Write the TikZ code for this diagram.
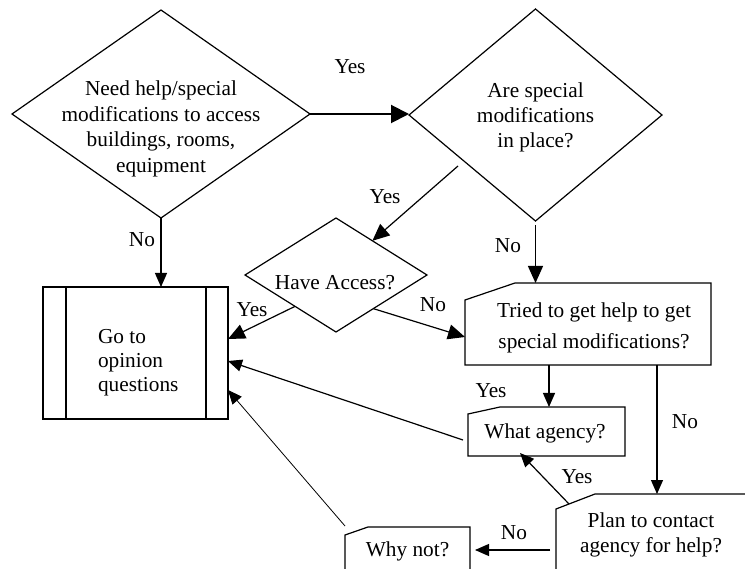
\documentclass[tikz,border=0pt]{standalone}
\usepackage{fontspec}
\setmainfont{Liberation Serif}
\usetikzlibrary{shapes.geometric,arrows.meta,calc}
\begin{document}
\begin{tikzpicture}[x=1pt,y=-1pt,
  every node/.style={inner sep=0pt, outer sep=0pt},
  txt/.style={font=\fontsize{21.3}{25.5}\selectfont, align=center},
  dia/.style={diamond, draw, line width=1.2pt},
  boxshape/.style={rectangle},
  outline/.style={line width=1.2pt, line join=miter},
  arr/.style={line width=1.2pt, -{Triangle[length=14pt,width=12pt]}},
  arrbig/.style={line width=1.2pt, -{Triangle[length=17pt,width=15pt]}},
  bigarr/.style={line width=2pt, -{Triangle[length=18pt,width=18pt]}},
  thinarr/.style={line width=0.8pt, -{Triangle[length=14pt,width=12pt]}}]
\useasboundingbox (0,0) rectangle (745,569);
\begin{scope}
\clip (0,0) rectangle (745,569);
% decision diamonds
\node[dia, minimum width=298pt, minimum height=208pt] (d1) at (161,114) {};
\node[dia, minimum width=253pt, minimum height=212pt] (d2) at (535.5,115) {};
\node[dia, minimum width=182pt, minimum height=114pt] (d3) at (336,275) {};
\node[txt] (t1) at (161,129) {Need help/special\\modifications to access\\buildings, rooms,\\equipment};
\node[txt, font=\fontsize{21.3}{25}\selectfont] (t2) at (535.5,117.5) {Are special\\modifications\\in place?};
\node[txt] (t3) at (335,283) {Have Access?};
% predefined process box
\node[draw, line width=1.2pt, minimum width=185pt, minimum height=132pt] (op) at (135.5,353) {};
\draw[outline] ([xshift=23pt]op.north west) -- ([xshift=23pt]op.south west);
\draw[outline] ([xshift=-22pt]op.north east) -- ([xshift=-22pt]op.south east);
\node[txt, font=\fontsize{21.3}{24}\selectfont, align=left, anchor=west] (t4) at (98,362.5) {Go to\\opinion\\questions};
% card boxes
\node[boxshape, minimum width=246pt, minimum height=82pt] (tr) at (588,324) {};
\draw[outline] ([yshift=-17pt]tr.north west) -- ([xshift=50pt]tr.north west) -- (tr.north east) -- (tr.south east) -- (tr.south west) -- cycle;
\node[txt, font=\fontsize{21.3}{31}\selectfont] (t5) at (594,327.5) {Tried to get help to get\\special modifications?};
\node[boxshape, minimum width=157pt, minimum height=49pt] (wa) at (546.5,431.5) {};
\draw[outline] ([yshift=-7pt]wa.north west) -- ([xshift=32pt]wa.north west) -- (wa.north east) -- (wa.south east) -- (wa.south west) -- cycle;
\node[txt] (t6) at (545,433) {What agency?};
\node[boxshape, minimum width=220pt, minimum height=100pt] (pl) at (666,544) {};
\draw[outline] ([yshift=-15pt]pl.north west) -- ([xshift=39pt]pl.north west) -- (pl.north east) -- (pl.south east) -- (pl.south west) -- cycle;
\node[txt, font=\fontsize{21.3}{25}\selectfont] (t7) at (651,534.5) {Plan to contact\\agency for help?};
\node[boxshape, minimum width=125pt, minimum height=53pt] (why) at (407.5,553.5) {};
\draw[outline] ([yshift=-8pt]why.north west) -- ([xshift=23pt]why.north west) -- (why.north east) -- (why.south east) -- (why.south west) -- cycle;
\node[txt] (t8) at (407.5,551) {Why not?};
% connectors
\draw[bigarr] (d1.east) -- (d1.east -| d2.west);
\coordinate (s2) at (458,166);
\draw[arrbig] (s2) -- ($(d3.north)!0.4!(d3.east)$);
\draw[arrbig] ([yshift=-4pt]d2.south) -- (d2.south |- tr.north);
\draw[arr] (d1.south) -- (d1.south |- op.north);
\draw[arrbig] ($(d3.west)!0.55!(d3.south)$) -- ([yshift=14pt]op.east);
\draw[arrbig] ($(d3.east)!0.59!(d3.south)$) -- ([yshift=-13pt]tr.west);
\draw[arr] ([xshift=-39pt]tr.south) -- ([xshift=-39pt]tr.south |- wa.north);
\draw[arr] ([xshift=-5pt,yshift=-8.5pt]wa.west) -- ([yshift=-8pt]op.east);
\draw[arr] ([xshift=69pt]tr.south) -- ([xshift=69pt]tr.south |- pl.north);
\draw[arr] ([xshift=13pt,yshift=-10pt]pl.north west) -- ([xshift=-26.5pt,yshift=3pt]wa.south);
\coordinate (p11) at ([xshift=-6pt,yshift=-6pt]pl.west);
\draw[arr] (p11) -- ($(p11 -| why.east)+(5,0)$);
\draw[thinarr] ([yshift=1pt]why.north west) -- ([yshift=-37pt]op.east);
% labels
\node[txt] (l1) at (350,67) {Yes};
\node[txt] (l2) at (385,197) {Yes};
\node[txt] (l3) at (142,240) {No};
\node[txt] (l4) at (508,246) {No};
\node[txt] (l5) at (252,310) {Yes};
\node[txt] (l6) at (433,305) {No};
\node[txt] (l7) at (491,391) {Yes};
\node[txt] (l8) at (685,422) {No};
\node[txt] (l9) at (577,477) {Yes};
\node[txt] (l10) at (514,533) {No};
\end{scope}
\end{tikzpicture}
\end{document}
